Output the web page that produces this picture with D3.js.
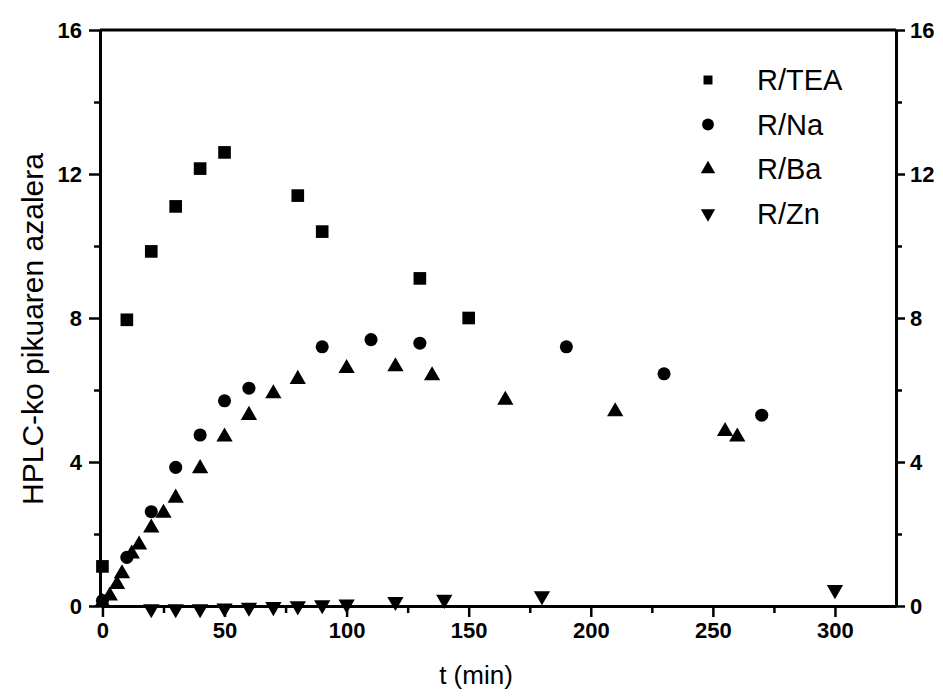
<!DOCTYPE html>
<html>
<head>
<meta charset="utf-8">
<script src="https://cdn.jsdelivr.net/npm/d3@7/dist/d3.min.js"></script>
<style>
  body { margin: 0; background: #fff; }
  text { font-family: "Liberation Sans", Arial, sans-serif; fill: #000; }
</style>
</head>
<body>
<script>
// data: [t (min), area]
var teaData = [[0, 1.1], [10, 7.95], [20, 9.85], [30, 11.1], [40, 12.15], [50, 12.6],
               [80, 11.4], [90, 10.4], [130, 9.1], [150, 8.0]];
var naData = [[0, 0.15], [10, 1.35], [20, 2.62], [30, 3.85], [40, 4.75], [50, 5.7],
              [60, 6.05], [90, 7.2], [110, 7.4], [130, 7.3], [190, 7.2], [230, 6.45], [270, 5.3]];
var baData = [[0, 0.1], [3, 0.28], [6, 0.6], [8, 0.9], [12, 1.45], [15, 1.7], [20, 2.17],
              [25, 2.58], [30, 3.0], [40, 3.82], [50, 4.7], [60, 5.3], [70, 5.9], [80, 6.3],
              [100, 6.6], [120, 6.65], [135, 6.4], [165, 5.72], [210, 5.4], [255, 4.85], [260, 4.7]];
var znData = [[20, -0.08], [30, -0.08], [40, -0.08], [50, -0.06], [60, -0.04], [70, -0.02],
              [80, 0], [90, 0.03], [100, 0.05], [120, 0.12], [140, 0.18], [180, 0.28], [300, 0.45]];

var seriesNames = ["R/TEA", "R/Na", "R/Ba", "R/Zn"];
var xTicks = [0, 50, 100, 150, 200, 250, 300];
var xMinorTicks = [25, 75, 125, 175, 225, 275];
var yTicks = [0, 4, 8, 12, 16];
var yMinorTicks = [2, 6, 10, 14];

var width = 943, height = 697;
// plot box edges (note: "top" is taken by window.top)
var plotLeft = 100, plotRight = 896, plotTop = 30, plotBottom = 606;

var svg = d3.select("body").append("svg")
    .attr("width", width)
    .attr("height", height);

var x = d3.scaleLinear().domain([-1, 325]).range([plotLeft, plotRight]);
var y = d3.scaleLinear().domain([0, 16]).range([plotBottom, plotTop]);

function styleAxis(g) {
    g.attr("font-size", null).attr("font-family", null);
    g.select(".domain").attr("stroke-width", 3);
    g.selectAll(".tick line").attr("stroke-width", 2.5);
    g.selectAll(".tick text")
        .style("font-size", "22px")
        .style("font-weight", "bold");
}

function minorAxis(g) {
    g.select(".domain").remove();
    g.selectAll(".tick line").attr("stroke-width", 2.5);
}

// bottom axis
svg.append("g")
    .attr("transform", "translate(0," + plotBottom + ")")
    .call(d3.axisBottom(x).tickValues(xMinorTicks).tickSize(7).tickFormat("").tickSizeOuter(0))
    .call(minorAxis);
svg.append("g")
    .attr("transform", "translate(0," + plotBottom + ")")
    .call(d3.axisBottom(x).tickValues(xTicks).tickSize(11).tickPadding(5).tickSizeOuter(0))
    .call(styleAxis);

// left axis
svg.append("g")
    .attr("transform", "translate(" + plotLeft + ",0)")
    .call(d3.axisLeft(y).tickValues(yMinorTicks).tickSize(6).tickFormat("").tickSizeOuter(0))
    .call(minorAxis);
svg.append("g")
    .attr("transform", "translate(" + plotLeft + ",0)")
    .call(d3.axisLeft(y).tickValues(yTicks).tickSize(11).tickPadding(7).tickSizeOuter(0))
    .call(styleAxis);

// right axis
svg.append("g")
    .attr("transform", "translate(" + plotRight + ",0)")
    .call(d3.axisRight(y).tickValues(yMinorTicks).tickSize(6).tickFormat("").tickSizeOuter(0))
    .call(minorAxis);
svg.append("g")
    .attr("transform", "translate(" + plotRight + ",0)")
    .call(d3.axisRight(y).tickValues(yTicks).tickSize(9).tickPadding(5).tickSizeOuter(0))
    .call(styleAxis);

// top frame line
svg.append("line")
    .attr("x1", plotLeft).attr("x2", plotRight)
    .attr("y1", plotTop).attr("y2", plotTop)
    .attr("stroke", "#000").attr("stroke-width", 3);

// axis titles
svg.append("text")
    .attr("x", 476).attr("y", 684)
    .attr("text-anchor", "middle")
    .style("font-size", "26px")
    .text("t (min)");
svg.append("text")
    .attr("transform", "translate(43,329) rotate(-90)")
    .attr("text-anchor", "middle")
    .style("font-size", "30px")
    .text("HPLC-ko pikuaren azalera");

// markers
var symbols = [
    {data: teaData, type: d3.symbolSquare, size: 160, rot: 0},
    {data: naData, type: d3.symbolCircle, size: 135, rot: 0},
    {data: baData, type: d3.symbolTriangle, size: 115, rot: 0},
    {data: znData, type: d3.symbolTriangle, size: 115, rot: 180}
];

symbols.forEach(function (s) {
    svg.append("g").selectAll("path")
        .data(s.data)
        .join("path")
        .attr("d", d3.symbol().type(s.type).size(s.size))
        .attr("transform", d => "translate(" + x(d[0]) + "," + y(d[1]) + ") rotate(" + s.rot + ")")
        .attr("fill", "#000");
});

// legend
var legendSizes = [80, 110, 90, 90];
var legend = svg.append("g");
seriesNames.forEach(function (name, i) {
    var ly = 80 + i * 44.5;
    legend.append("path")
        .attr("d", d3.symbol().type(symbols[i].type).size(legendSizes[i]))
        .attr("transform", "translate(708," + ly + ") rotate(" + symbols[i].rot + ")")
        .attr("fill", "#000");
    legend.append("text")
        .attr("x", 757).attr("y", ly)
        .attr("dy", "0.36em")
        .style("font-size", "29px")
        .text(name);
});
</script>
</body>
</html>
